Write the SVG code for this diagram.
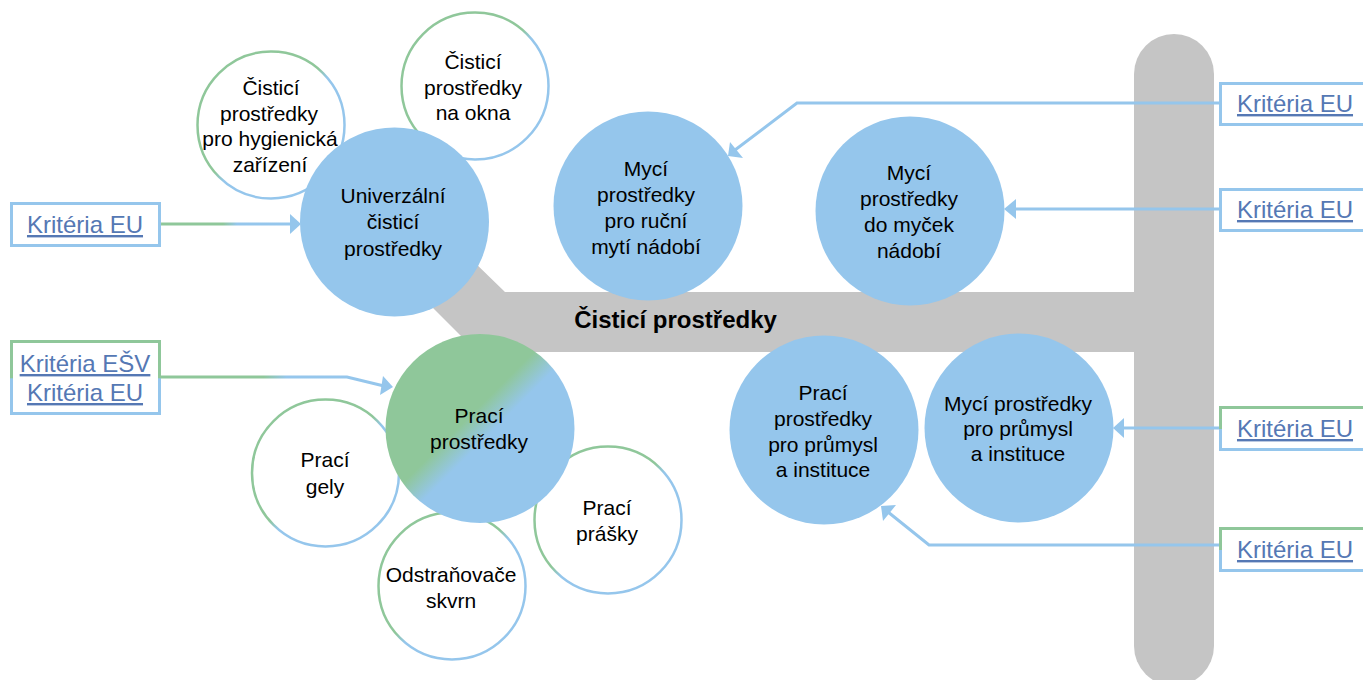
<svg xmlns="http://www.w3.org/2000/svg" width="1363" height="680" viewBox="0 0 1363 680">
<style>
.t{font-family:"Liberation Sans",Arial,sans-serif;font-size:21px;fill:#000;text-anchor:middle}
.l{font-family:"Liberation Sans",Arial,sans-serif;font-size:24px;fill:#5578b4;text-anchor:middle;text-decoration:underline}
.b{font-family:"Liberation Sans",Arial,sans-serif;font-size:24px;font-weight:bold;fill:#000;text-anchor:middle}
.big{fill:#95c6ec}
.o{fill:#fff;stroke:url(#gs);stroke-width:2.5}
.box{fill:#fff;stroke:url(#gv);stroke-width:3}
.boxb{fill:#fff;stroke:#95c6ec;stroke-width:3}
.c{fill:none;stroke:#95c6ec;stroke-width:3}
.a{fill:#95c6ec}
</style>
<defs>
<linearGradient id="gs" x1="0" y1="0" x2="1" y2="1"><stop offset="0.47" stop-color="#8fc79a"/><stop offset="0.53" stop-color="#95c6ec"/></linearGradient>
<linearGradient id="gv" x1="0" y1="0" x2="0" y2="1"><stop offset="0.5" stop-color="#8fc79a"/><stop offset="0.52" stop-color="#95c6ec"/></linearGradient>
<linearGradient id="gf" x1="0" y1="0" x2="1" y2="1"><stop offset="0.44" stop-color="#8fc79a"/><stop offset="0.54" stop-color="#95c6ec"/></linearGradient>
<linearGradient id="g1" gradientUnits="userSpaceOnUse" x1="160" y1="0" x2="300" y2="0"><stop offset="0.45" stop-color="#8fc79a"/><stop offset="0.55" stop-color="#95c6ec"/></linearGradient>
<linearGradient id="g2" gradientUnits="userSpaceOnUse" x1="160" y1="0" x2="390" y2="0"><stop offset="0.45" stop-color="#8fc79a"/><stop offset="0.55" stop-color="#95c6ec"/></linearGradient>
</defs>

<g id="trunk">
<rect x="1134" y="34" width="80" height="652" rx="40" fill="#c5c5c5"/>
<polygon points="470,258 505,292 1134,292 1134,352 477,352 433,308" fill="#c5c5c5"/>
<text class="b" x="675.500" y="328">Čisticí prostředky</text>
</g>

<g id="connectors">
<path class="c" style="stroke:url(#g1)" d="M160 224H292"/>
<polygon class="a" points="301,224 290,214 290,234"/>
<path class="c" style="stroke:url(#g2)" d="M160 377H347L384 386"/>
<polygon class="a" points="393,387 383,376 380,395"/>
<path class="c" d="M1220 103H797L735 150"/>
<polygon class="a" points="728,156 730,142 743,158"/>
<path class="c" d="M1220 209H1012"/>
<polygon class="a" points="1004,209 1016,199 1016,219"/>
<path class="c" d="M1220 428H1122"/>
<polygon class="a" points="1113,428 1124,418 1124,438"/>
<path class="c" d="M1220 545H929L888 512"/>
<polygon class="a" points="881,506 896,505 883,521"/>
</g>

<g id="n-hyg"><circle class="o" cx="271" cy="125" r="73.5"/><text class="t" x="271" y="95">Čisticí</text><text class="t" x="269" y="121">prostředky</text><text class="t" x="270" y="146">pro hygienická</text><text class="t" x="270" y="172">zařízení</text></g>
<g id="n-okna"><circle class="o" cx="475" cy="86" r="73.5"/><text class="t" x="473" y="69">Čisticí</text><text class="t" x="473" y="95">prostředky</text><text class="t" x="473" y="120">na okna</text></g>
<g id="n-univ"><circle class="big" cx="394.500" cy="222" r="94.500"/><text class="t" x="393" y="203">Univerzální</text><text class="t" x="393" y="229">čisticí</text><text class="t" x="393" y="256">prostředky</text></g>
<g id="n-rucni"><circle class="big" cx="648" cy="206" r="94.500"/><text class="t" x="646" y="176">Mycí</text><text class="t" x="646" y="202">prostředky</text><text class="t" x="646" y="228">pro ruční</text><text class="t" x="646" y="254">mytí nádobí</text></g>
<g id="n-mycky"><circle class="big" cx="910" cy="211" r="94.500"/><text class="t" x="909" y="180">Mycí</text><text class="t" x="909" y="206">prostředky</text><text class="t" x="909" y="232">do myček</text><text class="t" x="909" y="258">nádobí</text></g>
<g id="n-gely"><circle class="o" cx="325.500" cy="473" r="73.5"/><text class="t" x="325" y="467">Prací</text><text class="t" x="325" y="494">gely</text></g>
<g id="n-odstr"><circle class="o" cx="452" cy="586" r="73.5"/><text class="t" x="451" y="582">Odstraňovače</text><text class="t" x="451" y="608">skvrn</text></g>
<g id="n-prasky"><circle class="o" cx="608" cy="520" r="73.5"/><text class="t" x="607" y="515">Prací</text><text class="t" x="607" y="541">prášky</text></g>
<g id="n-praci"><circle cx="480" cy="428.500" r="94.500" fill="url(#gf)"/><text class="t" x="479" y="423">Prací</text><text class="t" x="479" y="449">prostředky</text></g>
<g id="n-pprum"><circle class="big" cx="824" cy="430" r="94.500"/><text class="t" x="823" y="400">Prací</text><text class="t" x="823" y="426">prostředky</text><text class="t" x="823" y="452">pro průmysl</text><text class="t" x="823" y="477">a instituce</text></g>
<g id="n-mprum"><circle class="big" cx="1019" cy="428" r="94.500"/><text class="t" x="1018" y="411">Mycí prostředky</text><text class="t" x="1018" y="436">pro průmysl</text><text class="t" x="1018" y="461">a instituce</text></g>

<g id="k-left1"><rect class="boxb" x="11.500" y="203.500" width="148" height="42"/><text class="l" x="85" y="233">Kritéria EU</text></g>
<g id="k-left2"><rect class="box" x="11.500" y="341.500" width="148" height="72"/><text class="l" x="85" y="372">Kritéria EŠV</text><text class="l" x="85" y="401">Kritéria EU</text></g>
<g id="k-r1"><rect class="boxb" x="1220.500" y="83.500" width="160" height="41"/><text class="l" x="1295" y="112">Kritéria EU</text></g>
<g id="k-r2"><rect class="boxb" x="1220.500" y="189.500" width="160" height="41"/><text class="l" x="1295" y="218">Kritéria EU</text></g>
<g id="k-r3"><rect class="box" x="1220.500" y="407.500" width="160" height="42"/><text class="l" x="1295" y="437">Kritéria EU</text></g>
<g id="k-r4"><rect class="box" x="1220.500" y="528.500" width="160" height="42"/><text class="l" x="1295" y="558">Kritéria EU</text></g>
</svg>
